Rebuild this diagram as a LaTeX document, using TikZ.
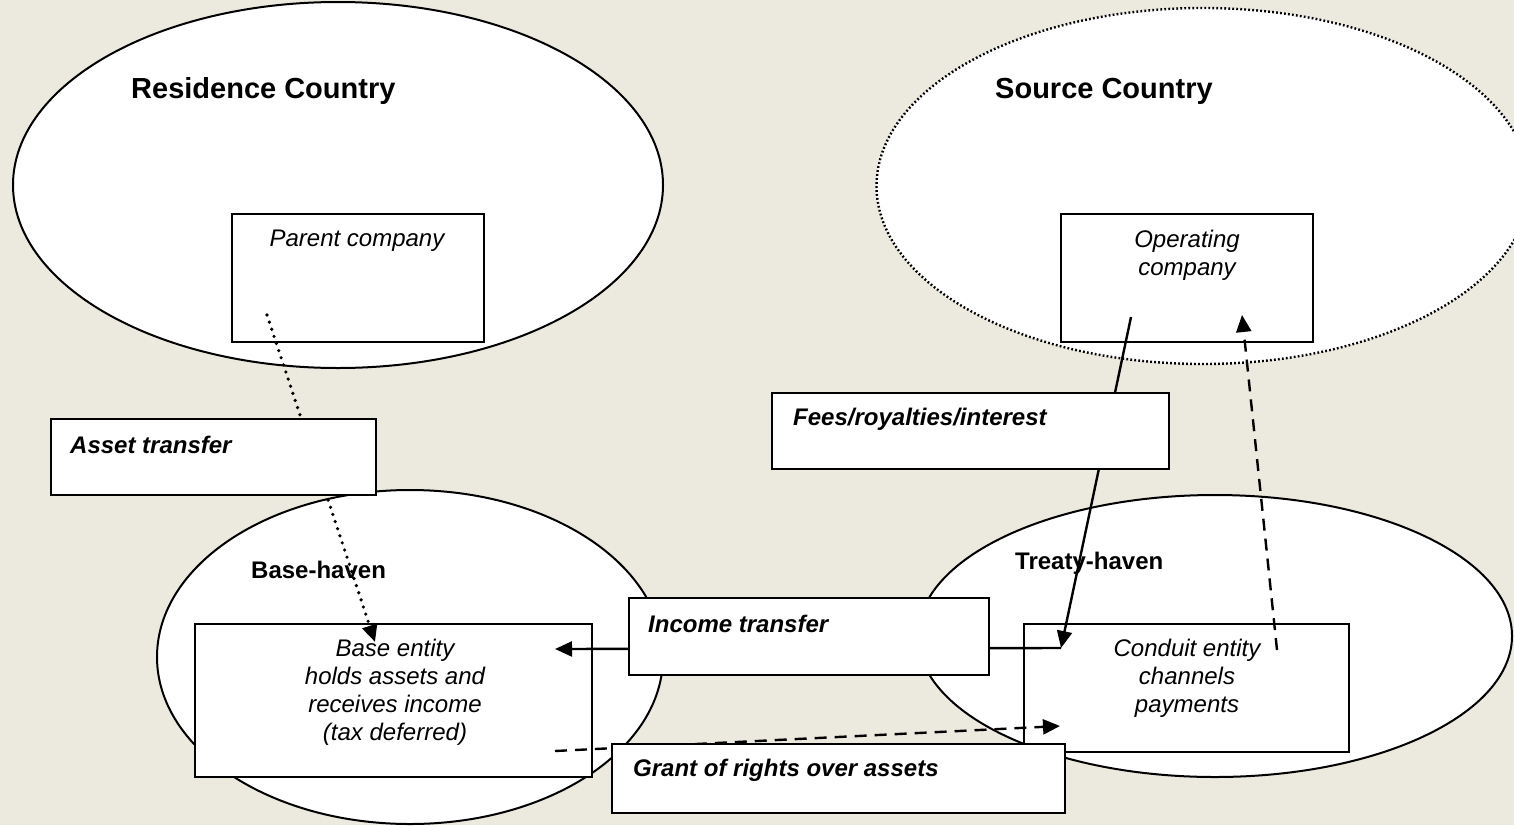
\documentclass[tikz,border=0pt]{standalone}
\usepackage{fontspec}
\setmainfont{Liberation Sans}
\usetikzlibrary{arrows.meta,shapes.geometric}
\definecolor{bg}{RGB}{236,233,223}
\begin{document}
\begin{tikzpicture}[x=1pt,y=-1pt,
  region/.style={ellipse, draw, line width=2pt, fill=white, inner sep=0pt},
  box/.style={draw, line width=2pt, fill=white, anchor=north west, inner sep=0pt},
  title/.style={font=\fontsize{29}{34}\selectfont\bfseries, anchor=west, inner sep=0pt},
  htitle/.style={font=\fontsize{24}{28}\selectfont\bfseries, anchor=west, inner sep=0pt},
  ent/.style={font=\fontsize{24}{28}\selectfont\itshape, align=center, inner sep=0pt},
  lab/.style={font=\fontsize{24}{28}\selectfont\bfseries\itshape, anchor=west, inner sep=0pt},
  tip/.style={-{Triangle[length=17pt,width=15pt]}},
  conn/.style={line width=2.4pt},
  dotline/.style={line width=3.6pt, line cap=round, dash pattern=on 0pt off 7.5pt},
  dashline/.style={line width=2.4pt, dash pattern=on 12pt off 8pt}]
\useasboundingbox (0,0) rectangle (1514,825);
\fill[bg] (0,0) rectangle (1514,825);

% regions
\node[region, minimum width=650pt, minimum height=366pt] (res) at (338,185) {};
\node[region, draw=none, minimum width=653pt, minimum height=356pt] (src) at (1203,186) {};
\draw[line width=2.4pt, dash pattern=on 1.8pt off 2.2pt] (src.center) ellipse [x radius=326.5, y radius=178];
\node[region, minimum width=506pt, minimum height=334pt] (bh) at (410,657) {};
\node[region, minimum width=594pt, minimum height=282pt] (th) at (1215,636) {};

\node[title] (rest) at (131,91) {Residence Country};
\node[title] (srct) at (995,91) {Source Country};
\node[htitle] (bht) at (251,570) {Base-haven};
\node[htitle] (tht) at (1015,563) {Treaty-haven};

% entity boxes
\node[box, minimum width=252pt, minimum height=128pt] (pc) at (231,213) {};
\node[ent] (pct) at (357,241) {Parent company};
\node[box, minimum width=252pt, minimum height=128pt] (oc) at (1060,213) {};
\node[ent] (oct) at (1187,255) {Operating\\company};
\node[box, minimum width=397pt, minimum height=153pt] (be) at (194,623) {};
\node[ent] (bet) at (395,692) {Base entity\\holds assets and\\receives income\\(tax deferred)};
\node[box, minimum width=325pt, minimum height=128pt] (ce) at (1023,623) {};
\node[ent] (cet) at (1187,678) {Conduit entity\\channels\\payments};

% connectors
\coordinate (a1) at (267,315);
\coordinate (a2) at (375,642);
\draw[dotline, tip] (a1) -- (a2);
\coordinate (f1) at (1131,317);
\coordinate (f2) at (1061,648);
\draw[conn, tip] (f1) -- (f2);
\coordinate (i2) at (555,649);
\draw[conn, tip] (f2) -- (i2);
\coordinate (d1) at (1277,650);
\coordinate (d2) at (1242,315);
\draw[dashline, tip] (d1) -- (d2);
\coordinate (g1) at (555,751);
\coordinate (g2) at (1060,726);
\draw[dashline, tip] (g1) -- (g2);

% label boxes
\node[box, minimum width=325pt, minimum height=76pt] (at) at (50,418) {};
\node[lab] (att) at (70,445) {Asset transfer};
\node[box, minimum width=397pt, minimum height=76pt] (fr) at (771,392) {};
\node[lab] (frt) at (793,419) {Fees/royalties/interest};
\node[box, minimum width=360pt, minimum height=77pt] (it) at (628,597) {};
\node[lab] (itt) at (648,624) {Income transfer};
\node[box, minimum width=453pt, minimum height=69pt] (gr) at (611,743) {};
\node[lab] (grt) at (633,770) {Grant of rights over assets};
\end{tikzpicture}
\end{document}
